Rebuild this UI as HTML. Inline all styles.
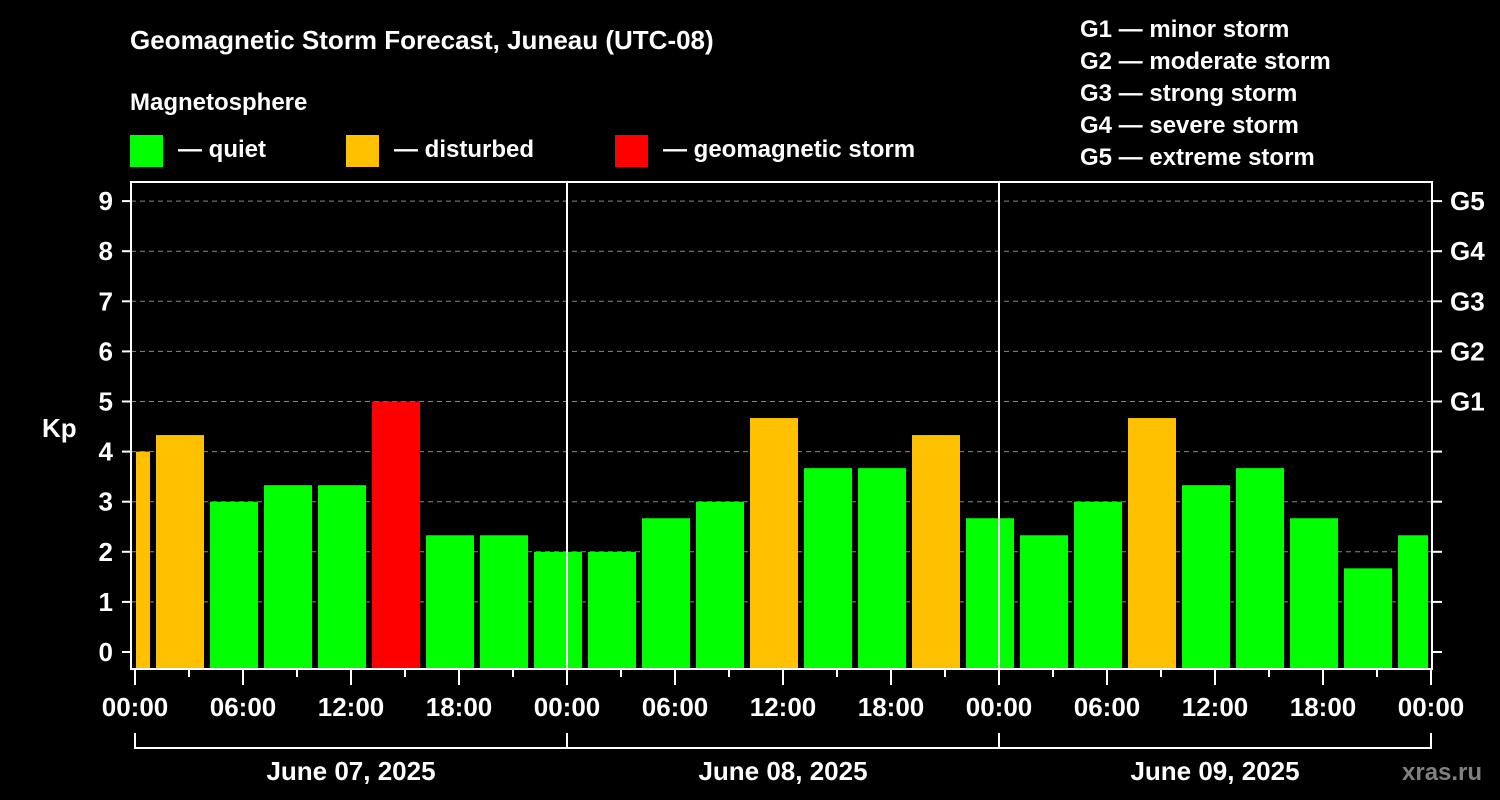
<!DOCTYPE html>
<html><head><meta charset="utf-8"><style>
html,body{margin:0;padding:0;background:#000;}
svg{display:block;font-family:"Liberation Sans",sans-serif;font-weight:bold;}
</style></head><body>
<svg id="chart" width="1500" height="800" viewBox="0 0 1500 800" xmlns="http://www.w3.org/2000/svg">
<rect width="1500" height="800" fill="#000"/>
<text x="130" y="49" fill="#fff" font-size="26">Geomagnetic Storm Forecast, Juneau (UTC-08)</text>
<text x="130" y="110" fill="#fff" font-size="24">Magnetosphere</text>
<g><rect x="130" y="135" width="33" height="32" fill="#00ff00"/><text x="178" y="157" fill="#fff" font-size="24">— quiet</text></g>
<g><rect x="346" y="135" width="33" height="32" fill="#ffc000"/><text x="394" y="157" fill="#fff" font-size="24">— disturbed</text></g>
<g><rect x="615" y="135" width="33" height="32" fill="#ff0000"/><text x="663" y="157" fill="#fff" font-size="24">— geomagnetic storm</text></g>
<g fill="#fff" font-size="24">
<text x="1080" y="37">G1 — minor storm</text>
<text x="1080" y="69">G2 — moderate storm</text>
<text x="1080" y="101">G3 — strong storm</text>
<text x="1080" y="133">G4 — severe storm</text>
<text x="1080" y="165">G5 — extreme storm</text>
</g>
<text x="42" y="437" fill="#fff" font-size="26">Kp</text>
<g id="grid"></g>
<g id="bars"></g>
<g id="axes"></g>
<text x="1402" y="780" fill="#808080" font-size="24">xras.ru</text>
</svg>
<script>
const kpValues = [4.0, 4.33, 3.0, 3.33, 3.33, 5.0, 2.33, 2.33, 2.0, 2.0, 2.67, 3.0, 4.67, 3.67, 3.67, 4.33, 2.67, 2.33, 3.0, 4.67, 3.33, 3.67, 2.67, 1.67, 2.33];
const yTicks = [0,1,2,3,4,5,6,7,8,9];
const gLabels = ["G1","G2","G3","G4","G5"];
const hourLabels = ["00:00","06:00","12:00","18:00","00:00","06:00","12:00","18:00","00:00","06:00","12:00","18:00","00:00"];
const dateLabels = ["June 07, 2025","June 08, 2025","June 09, 2025"];
const firstBarEndHour = 0.8333;

const NS="http://www.w3.org/2000/svg";
const L=131,R=1432,T=182,B=669;
const X0=135,PXH=18;
const y=v=>652-v*50.1;
const x=h=>X0+h*PXH;
function mk(tag,attrs,parent){const e=document.createElementNS(NS,tag);for(const k in attrs)e.setAttribute(k,attrs[k]);parent.appendChild(e);return e;}
const grid=document.getElementById('grid'),bars=document.getElementById('bars'),axes=document.getElementById('axes');
// gridlines
yTicks.forEach(v=>{if(v<1)return;const l=mk('line',{x1:L,x2:R,y1:y(v),y2:y(v),stroke:'#888','stroke-width':1,'stroke-dasharray':'5,4'},grid);

});
// bars
kpValues.forEach((v,i)=>{
  const endH=firstBarEndHour+3*i;
  let x2=x(endH),x1=x(endH)-48;
  x1=Math.max(x1,136);x2=Math.min(x2,1428);
  const c=v>=5?'#ff0000':(v>=4?'#ffc000':'#00ff00');
  const r=mk('rect',{x:x1,y:y(v),width:x2-x1,height:B-y(v),fill:c},bars);
  
  
});
// day separators
[1,2].forEach(d=>{const l=mk('line',{x1:x(24*d),x2:x(24*d),y1:T,y2:B,stroke:'#fff','stroke-width':2},axes);

});
// frame
const fr=mk('rect',{x:L,y:T,width:R-L,height:B-T,fill:'none',stroke:'#fff','stroke-width':2},axes);


// y ticks and labels
yTicks.forEach(v=>{
  mk('line',{x1:122,x2:L,y1:y(v),y2:y(v),stroke:'#fff','stroke-width':2},axes);
  mk('line',{x1:R,x2:1442,y1:y(v),y2:y(v),stroke:'#fff','stroke-width':2},axes);
  const t=mk('text',{x:113,y:y(v)+9,fill:'#fff','font-size':26,'text-anchor':'end'},axes);t.textContent=v;
  
  
});
gLabels.forEach((g,i)=>{const t=mk('text',{x:1450,y:y(5+i)+9,fill:'#fff','font-size':26},axes);t.textContent=g;

});
// x ticks
for(let h=0;h<=72;h+=3){const major=h%6===0;mk('line',{x1:x(h),x2:x(h),y1:B,y2:major?685:677,stroke:'#fff','stroke-width':2},axes);}
hourLabels.forEach((s,i)=>{const t=mk('text',{x:x(6*i*1)+(0),y:716,fill:'#fff','font-size':26,'text-anchor':'middle'},axes);t.setAttribute('x',x(i*6));t.textContent=s;

});
// date brackets
mk('line',{x1:x(0),x2:x(72),y1:748,y2:748,stroke:'#fff','stroke-width':2},axes);
[0,24,48,72].forEach(h=>mk('line',{x1:x(h),x2:x(h),y1:733,y2:749,stroke:'#fff','stroke-width':2},axes));
dateLabels.forEach((s,i)=>{const t=mk('text',{x:x(24*i+12),y:780,fill:'#fff','font-size':26,'text-anchor':'middle'},axes);t.textContent=s;

});
</script>
</body></html>
